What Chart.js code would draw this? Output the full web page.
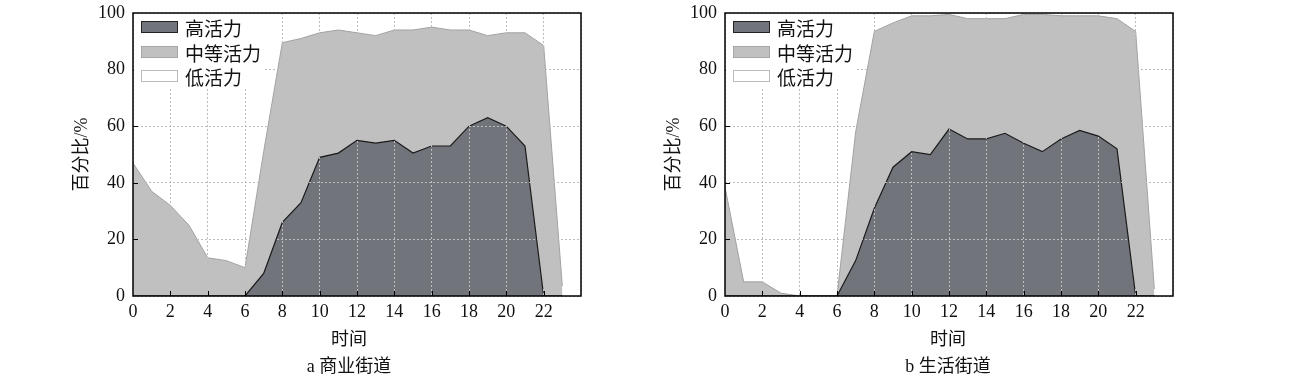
<!DOCTYPE html>
<html>
<head>
<meta charset="utf-8">
<script src="https://cdn.jsdelivr.net/npm/chart.js@4.4.0/dist/chart.umd.min.js"></script>
<style>
html,body{margin:0;padding:0;background:#fff;}
#wrap{position:relative;width:1300px;height:380px;overflow:hidden;background:#fff;}
canvas{position:absolute;top:0;}
.txt{position:absolute;font-family:"Liberation Serif","Noto Sans CJK SC",serif;color:#111;white-space:nowrap;text-align:center;}
.legend{position:absolute;top:14px;width:130px;height:75px;background:#fff;font-family:"Liberation Serif","Noto Sans CJK SC",serif;font-size:19px;color:#111;}
.row{position:absolute;left:7px;height:24px;display:flex;align-items:center;}
.sw{width:37px;height:12px;margin-right:7px;box-sizing:border-box;}
</style>
</head>
<body>
<div id="wrap">
  <canvas id="cA" width="650" height="380" style="left:0px"></canvas>
  <canvas id="cB" width="650" height="380" style="left:592px"></canvas>
  <div id="legA" class="legend" style="left:134px"></div>
  <div id="legB" class="legend" style="left:726px"></div>
  <div class="txt" style="left:289px;top:327px;width:120px;height:24px;line-height:24px;font-size:18px;">时间</div>
  <div class="txt" style="left:249px;top:354px;width:200px;height:24px;line-height:24px;font-size:18px;">a 商业街道</div>
  <div class="txt" style="left:888px;top:327px;width:120px;height:24px;line-height:24px;font-size:18px;">时间</div>
  <div class="txt" style="left:848px;top:354px;width:200px;height:24px;line-height:24px;font-size:18px;">b 生活街道</div>
</div>
<script>
// ---- data ----
const hours = [0,1,2,3,4,5,6,7,8,9,10,11,12,13,14,15,16,17,18,19,20,21,22,23];
const seriesNames = ['高活力','中等活力','低活力'];
// a 商业街道 (percent of each class)
const highA   = [0,0,0,0,0,0,0,8,26,33,49,50.5,55,54,55,50.5,53,53,60,63,60,53,0,0];
const mediumA = [47,37,32,25,13.5,12.5,10,43,63.5,58,44,43.5,38,38,39,43.5,42,41,34,29,33,40,88.5,3.5];
const lowA    = [53,63,68,75,86.5,87.5,90,49,10.5,9,7,6,7,8,6,6,5,6,6,8,7,7,11.5,96.5];
// b 生活街道
const highB   = [0,0,0,0,0,0,0,12.5,31,45.5,51,50,59,55.5,55.5,57.5,54,51,55.5,58.5,56.5,52,0,0];
const mediumB = [38.5,5,5,1,0,0,0,45.5,62.5,51,48,49,40.5,42.5,42.5,40.5,45.5,48.5,43.5,40.5,42.5,46,93.5,2.5];
const lowB    = [61.5,95,95,99,100,100,100,42,6.5,3.5,1,1,0.5,2,2,2,0.5,0.5,1,1,1,2,6.5,97.5];
const xTicks = [0,2,4,6,8,10,12,14,16,18,20,22];
const yTicks = [0,20,40,60,80,100];

const FONT = "'Liberation Serif','Noto Sans CJK SC',serif";
const fills   = ['#72747c','#c0c0c0','#ffffff'];
const borders = ['#1a1a1a','#a2a2a2','#bdbdbd'];

const framePlugin = {
  id: 'frame',
  afterDraw(chart) {
    const {ctx, chartArea: a, scales: {x, y}} = chart;
    ctx.save();
    ctx.strokeStyle = '#000';
    ctx.lineWidth = 1;
    ctx.beginPath();
    x.ticks.forEach(t => {
      if (t.value <= 0 || t.value >= 24) return;
      const px = Math.round(x.getPixelForValue(t.value)) + 0.5;
      ctx.moveTo(px, a.bottom); ctx.lineTo(px, a.bottom - 5);
    });
    y.ticks.forEach(t => {
      if (t.value <= 0 || t.value >= 100) return;
      const py = Math.round(y.getPixelForValue(t.value)) + 0.5;
      ctx.moveTo(a.left, py); ctx.lineTo(a.left + 5, py);
    });
    ctx.stroke();
    ctx.lineWidth = 1.5;
    ctx.strokeRect(a.left, a.top, a.right - a.left, a.bottom - a.top);
    ctx.restore();
  }
};

function makeChart(id, high, medium, low) {
  const sets = [high, medium, low].map((vals, i) => ({
    label: seriesNames[i],
    data: vals.map((v, k) => ({x: hours[k], y: v})),
    backgroundColor: fills[i],
    borderColor: borders[i],
    borderWidth: i === 0 ? 1.2 : (i === 1 ? 1 : 0),
    fill: i === 0 ? 'origin' : '-1',
    pointRadius: 0,
    tension: 0
  }));
  return new Chart(document.getElementById(id), {
    type: 'line',
    data: {datasets: sets},
    options: {
      responsive: false,
      animation: false,
      devicePixelRatio: 1,
      layout: {padding: {top: 13, right: 69, bottom: 34, left: 0}},
      plugins: {legend: {display: false}, tooltip: {enabled: false}, title: {display: false}},
      scales: {
        x: {
          type: 'linear', min: 0, max: 24,
          afterBuildTicks(s) { s.ticks = xTicks.concat([24]).map(v => ({value: v})); },
          afterFit(s) { s.height = 50; s.paddingLeft = 0; s.paddingRight = 0; },
          ticks: {
            callback: v => (v === 24 ? '' : v),
            font: {family: FONT, size: 18}, color: '#111', padding: 5, maxRotation: 0, autoSkip: false
          },
          grid: {color: '#bdbdbd', lineWidth: 1, drawTicks: false, z: 1},
          border: {display: false, dash: [2, 2]}
        },
        y: {
          stacked: true, min: 0, max: 100,
          afterBuildTicks(s) { s.ticks = yTicks.map(v => ({value: v})); },
          afterFit(s) { s.width = 133; s.paddingTop = 0; s.paddingBottom = 0; },
          ticks: {font: {family: FONT, size: 18}, color: '#111', padding: 8},
          grid: {color: '#bdbdbd', lineWidth: 1, drawTicks: false, z: 1},
          border: {display: false, dash: [2, 2]},
          title: {display: true, text: '百分比/%', font: {family: FONT, size: 18}, color: '#111', padding: {top: 71, bottom: 0}}
        }
      }
    },
    plugins: [framePlugin]
  });
}

function makeLegend(id) {
  const el = document.getElementById(id);
  const tops = [1, 26, 50];
  seriesNames.forEach((name, i) => {
    const r = document.createElement('div');
    r.className = 'row';
    r.style.top = tops[i] + 'px';
    const sw = document.createElement('div');
    sw.className = 'sw';
    sw.style.background = fills[i];
    sw.style.border = (i === 0 ? '1.5px solid #222' : '1.5px solid ' + (i === 1 ? '#a8a8a8' : '#bbbbbb'));
    const t = document.createElement('span');
    t.textContent = name;
    r.appendChild(sw); r.appendChild(t);
    el.appendChild(r);
  });
}

makeChart('cA', highA, mediumA, lowA);
makeChart('cB', highB, mediumB, lowB);
makeLegend('legA');
makeLegend('legB');
</script>
</body>
</html>
